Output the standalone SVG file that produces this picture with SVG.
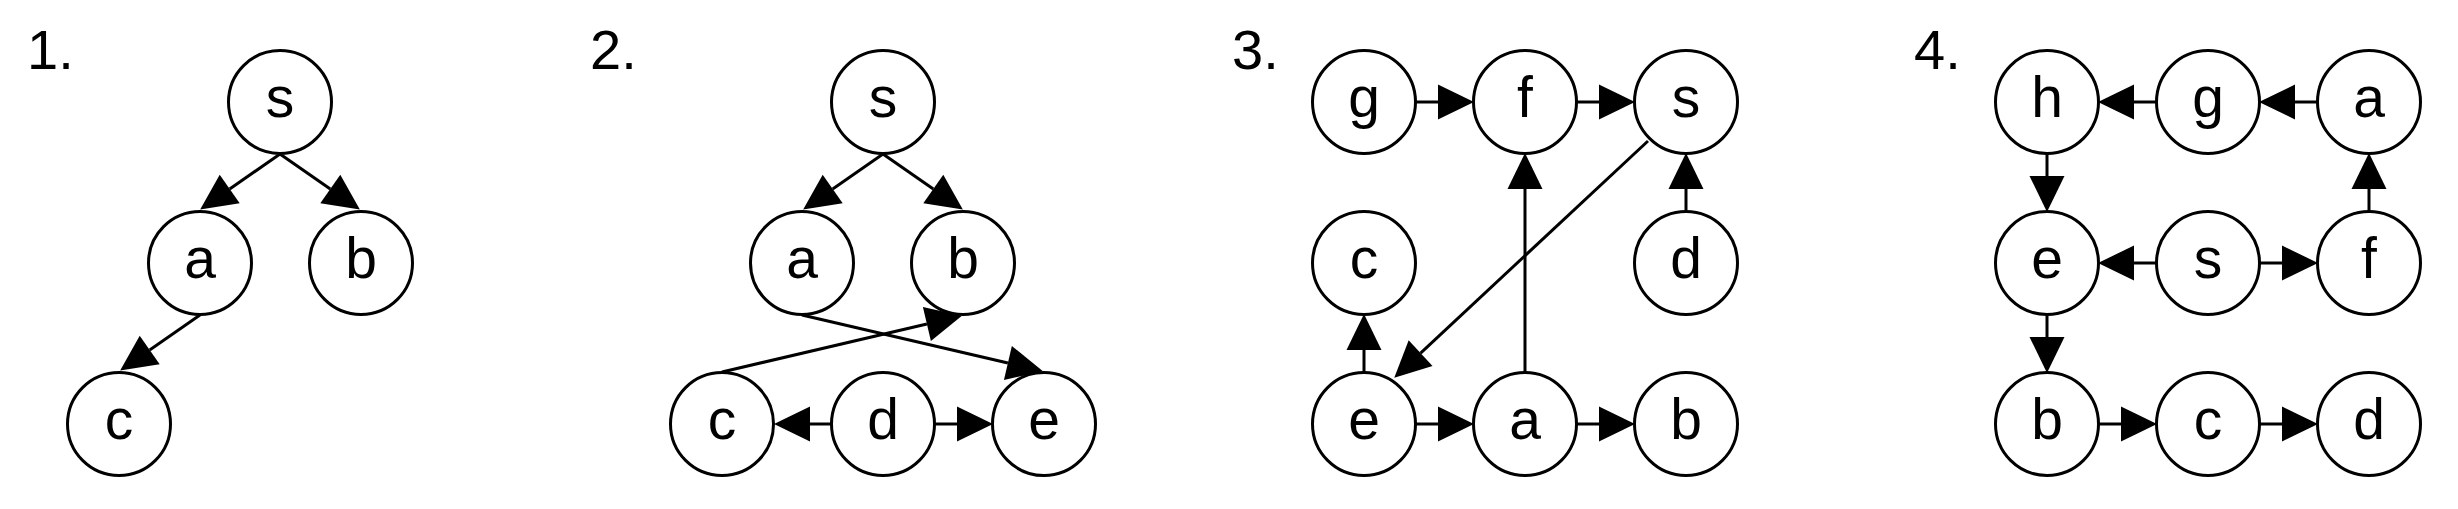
<svg xmlns="http://www.w3.org/2000/svg" width="2458" height="509" viewBox="0 0 2458 509">
<style>
.n circle{fill:#fff;stroke:#000;stroke-width:3}
.n text,.lbl{font-family:"Liberation Sans",Arial,sans-serif;fill:#000}
.n text{font-size:57px;text-anchor:middle}
.lbl{font-size:56px}
.e line{stroke:#000;stroke-width:3;marker-end:url(#arr)}
</style>
<defs>
<marker id="arr" markerUnits="userSpaceOnUse" markerWidth="36" markerHeight="36" viewBox="0 0 35 34" refX="0" refY="17" orient="auto" overflow="visible">
<path d="M0,0 L35,17 L0,34 Z" fill="#000"/>
</marker>
</defs>
<rect width="2458" height="509" fill="#fff"/>
<text class="lbl" x="27" y="69">1.</text>
<text class="lbl" x="590" y="69">2.</text>
<text class="lbl" x="1232" y="69">3.</text>
<text class="lbl" x="1914" y="69">4.</text>
<g id="connectors" class="e">
<line x1="280" y1="154" x2="229.7" y2="189"/>
<line x1="280" y1="154" x2="330.3" y2="189"/>
<line x1="200" y1="315" x2="149.7" y2="350"/>
<line x1="883" y1="154" x2="832.7" y2="189"/>
<line x1="883" y1="154" x2="933.3" y2="189"/>
<line x1="802" y1="315" x2="1007.9" y2="363"/>
<line x1="722" y1="372" x2="926.9" y2="324"/>
<line x1="831" y1="424" x2="810" y2="424"/>
<line x1="935" y1="424" x2="957" y2="424"/>
<line x1="1416" y1="102" x2="1438" y2="102"/>
<line x1="1577" y1="102" x2="1599" y2="102"/>
<line x1="1686" y1="211" x2="1686" y2="189"/>
<line x1="1648" y1="141" x2="1420.6" y2="353.1"/>
<line x1="1525" y1="372" x2="1525" y2="189"/>
<line x1="1364" y1="372" x2="1364" y2="350"/>
<line x1="1416" y1="424" x2="1438" y2="424"/>
<line x1="1577" y1="424" x2="1599" y2="424"/>
<line x1="2156" y1="102" x2="2134" y2="102"/>
<line x1="2317" y1="102" x2="2295" y2="102"/>
<line x1="2047" y1="154" x2="2047" y2="176"/>
<line x1="2156" y1="263" x2="2134" y2="263"/>
<line x1="2260" y1="263" x2="2282" y2="263"/>
<line x1="2369" y1="211" x2="2369" y2="189"/>
<line x1="2047" y1="315" x2="2047" y2="337"/>
<line x1="2099" y1="424" x2="2121" y2="424"/>
<line x1="2260" y1="424" x2="2282" y2="424"/>
</g>
<g id="p1-s" class="n"><circle cx="280" cy="102" r="51.5"/><text x="280" y="117">s</text></g>
<g id="p1-a" class="n"><circle cx="200" cy="263" r="51.5"/><text x="200" y="278">a</text></g>
<g id="p1-b" class="n"><circle cx="361" cy="263" r="51.5"/><text x="361" y="278">b</text></g>
<g id="p1-c" class="n"><circle cx="119" cy="424" r="51.5"/><text x="119" y="439">c</text></g>
<g id="p2-s" class="n"><circle cx="883" cy="102" r="51.5"/><text x="883" y="117">s</text></g>
<g id="p2-a" class="n"><circle cx="802" cy="263" r="51.5"/><text x="802" y="278">a</text></g>
<g id="p2-b" class="n"><circle cx="963" cy="263" r="51.5"/><text x="963" y="278">b</text></g>
<g id="p2-c" class="n"><circle cx="722" cy="424" r="51.5"/><text x="722" y="439">c</text></g>
<g id="p2-d" class="n"><circle cx="883" cy="424" r="51.5"/><text x="883" y="439">d</text></g>
<g id="p2-e" class="n"><circle cx="1044" cy="424" r="51.5"/><text x="1044" y="439">e</text></g>
<g id="p3-g" class="n"><circle cx="1364" cy="102" r="51.5"/><text x="1364" y="117">g</text></g>
<g id="p3-f" class="n"><circle cx="1525" cy="102" r="51.5"/><text x="1525" y="117">f</text></g>
<g id="p3-s" class="n"><circle cx="1686" cy="102" r="51.5"/><text x="1686" y="117">s</text></g>
<g id="p3-c" class="n"><circle cx="1364" cy="263" r="51.5"/><text x="1364" y="278">c</text></g>
<g id="p3-d" class="n"><circle cx="1686" cy="263" r="51.5"/><text x="1686" y="278">d</text></g>
<g id="p3-e" class="n"><circle cx="1364" cy="424" r="51.5"/><text x="1364" y="439">e</text></g>
<g id="p3-a" class="n"><circle cx="1525" cy="424" r="51.5"/><text x="1525" y="439">a</text></g>
<g id="p3-b" class="n"><circle cx="1686" cy="424" r="51.5"/><text x="1686" y="439">b</text></g>
<g id="p4-h" class="n"><circle cx="2047" cy="102" r="51.5"/><text x="2047" y="117">h</text></g>
<g id="p4-g" class="n"><circle cx="2208" cy="102" r="51.5"/><text x="2208" y="117">g</text></g>
<g id="p4-a" class="n"><circle cx="2369" cy="102" r="51.5"/><text x="2369" y="117">a</text></g>
<g id="p4-e" class="n"><circle cx="2047" cy="263" r="51.5"/><text x="2047" y="278">e</text></g>
<g id="p4-s" class="n"><circle cx="2208" cy="263" r="51.5"/><text x="2208" y="278">s</text></g>
<g id="p4-f" class="n"><circle cx="2369" cy="263" r="51.5"/><text x="2369" y="278">f</text></g>
<g id="p4-b" class="n"><circle cx="2047" cy="424" r="51.5"/><text x="2047" y="439">b</text></g>
<g id="p4-c" class="n"><circle cx="2208" cy="424" r="51.5"/><text x="2208" y="439">c</text></g>
<g id="p4-d" class="n"><circle cx="2369" cy="424" r="51.5"/><text x="2369" y="439">d</text></g>
</svg>
